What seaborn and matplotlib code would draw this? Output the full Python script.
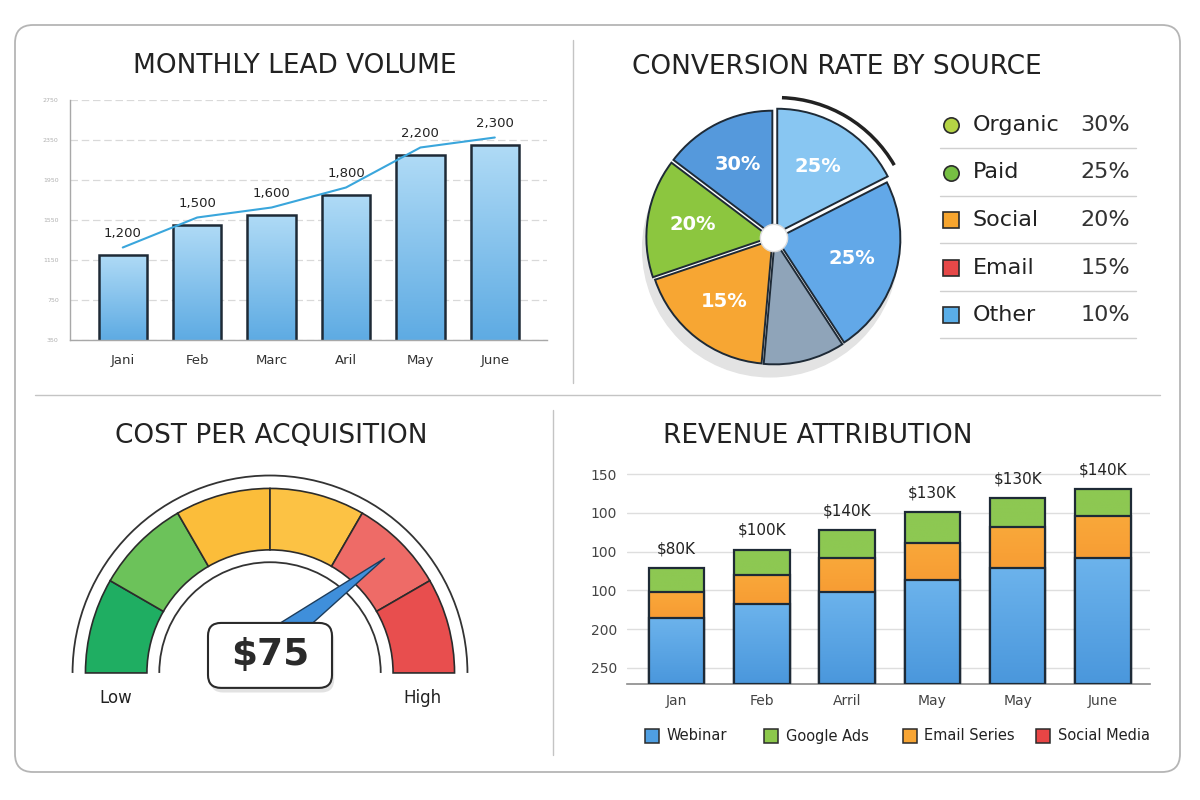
import numpy as np
import pandas as pd
import matplotlib
matplotlib.use('Agg')
import matplotlib.pyplot as plt
from matplotlib.patches import Wedge, Arc, Circle, FancyBboxPatch, Polygon
from matplotlib.colors import LinearSegmentedColormap
import seaborn as sns

sns.set_theme(style='white')
plt.rcParams['font.family'] = ['DejaVu Sans']

# --- данные ---
lead_months = ['Jani', 'Feb', 'Marc', 'Aril', 'May', 'June']
lead_volume = [1200, 1500, 1600, 1800, 2200, 2300]
lead_labels = ['1,200', '1,500', '1,600', '1,800', '2,200', '2,300']

source_names = ['Organic', 'Paid', 'Social', 'Email', 'Other']
source_shares = ['30%', '25%', '20%', '15%', '10%']
source_colors = ['#b5d445', '#76bf43', '#f7a52e', '#e64848', '#5aaee8']
source_markers = ['o', 'o', 's', 's', 's']

# slices clockwise from 12 o'clock, sizes
pie_sizes = [17.5, 23.3, 10.6, 18.4, 15.5, 14.7]
pie_labels = ['25%', '25%', '', '15%', '20%', '30%']
pie_colors = ['#88c6f2', '#62a8e8', '#8fa4b9', '#f7a633', '#8cc63f', '#5599dc']
pie_explode = [0.05, 0.02, 0.02, 0.02, 0.03, 0.03]

cpa_value = 75
cpa_max = 100
cpa_text = '$75'
gauge_colors = ['#1fae62', '#6cc25a', '#fbbd3a', '#fcc244', '#ee6b67', '#e84e4e']

rev_months = ['Jan', 'Feb', 'Arril', 'May', 'May', 'June']
rev_webinar = [47, 57, 66, 74, 83, 90]
rev_email = [19, 21, 24, 27, 29, 30]
rev_google = [17, 18, 20, 22, 21, 19]
rev_totals = ['$80K', '$100K', '$140K', '$130K', '$130K', '$140K']
rev_ytick_labels = ['250', '200', '100', '100', '100', '150']
rev_series = ['Webinar', 'Google Ads', 'Email Series', 'Social Media']
rev_colors = ['#4f9fe2', '#8cc84b', '#f7a534', '#e84545']

EDGE = '#1e2a36'
TXT = '#222222'


def fill_gradient(ax, patches, top, bottom, z, floor=None):
    """Заливка столбцов вертикальным градиентом."""
    cmap = LinearSegmentedColormap.from_list('g', [bottom, top])
    grad = np.linspace(0, 1, 256).reshape(-1, 1)
    for p in patches:
        x0, y0, w, h = p.get_x(), p.get_y(), p.get_width(), p.get_height()
        lo = y0 if floor is None else max(y0, floor)
        im = ax.imshow(grad, extent=[x0, x0 + w, lo, y0 + h], origin='lower',
                       aspect='auto', cmap=cmap, zorder=z)
        im.set_clip_path(p)
        p.set_facecolor('none')
        p.set_zorder(z + 0.5)


fig = plt.figure(figsize=(12, 8), dpi=100)
fig.patch.set_facecolor('white')

# холст в пикселях для рамок, заголовков и легенд
canvas = fig.add_axes([0, 0, 1, 1], zorder=-1)
canvas.set_xlim(0, 1200)
canvas.set_ylim(800, 0)
canvas.axis('off')
canvas.add_patch(FancyBboxPatch((15, 25), 1165, 747, boxstyle='round,pad=0,rounding_size=18',
                                fc='none', ec='#b5b5b5', lw=1.3))
canvas.plot([573, 573], [40, 383], color='#c4c4c4', lw=1)
canvas.plot([35, 1160], [395, 395], color='#c4c4c4', lw=1)
canvas.plot([553, 553], [410, 755], color='#c4c4c4', lw=1)

titles = [('MONTHLY LEAD VOLUME', 295, 66), ('CONVERSION RATE BY SOURCE', 837, 67),
          ('COST PER ACQUISITION', 271, 436), ('REVENUE ATTRIBUTION', 818, 436)]
for t, x, y in titles:
    canvas.text(x, y, t, ha='center', va='center', fontsize=19, color=TXT)

# === 1. Monthly lead volume ===
ax1 = fig.add_axes([69.8 / 1200, 1 - 340 / 800, 476.7 / 1200, 240 / 800])
ax1.patch.set_alpha(0)
df_lead = pd.DataFrame({'month': lead_months, 'leads': lead_volume})
sns.barplot(data=df_lead, x='month', y='leads', order=lead_months, color='#7fc0ee',
            width=0.65, saturation=1, edgecolor=EDGE, linewidth=1.8, ax=ax1)
ax1.set_ylim(350, 2750)
fill_gradient(ax1, list(ax1.patches), '#b0dbf6', '#5eabe3', 2, floor=350)
xs = np.arange(len(lead_volume))
ax1.plot(xs, np.array(lead_volume) + 75, color='#3aa6dc', lw=1.5, zorder=4)
for i, (v, lab) in enumerate(zip(lead_volume, lead_labels)):
    ax1.annotate(lab, (i, v), xytext=(0, 15.6), textcoords='offset points',
                 ha='center', va='center', fontsize=9.5, color=TXT)
ax1.set_xlim(-0.712, 5.695)
ax1.set_ylim(350, 2750)
ax1.set_yticks(np.arange(350, 2751, 400))
ax1.yaxis.grid(True, color='#d9d9d9', lw=0.9, ls=(0, (6, 3)))
ax1.set_axisbelow(True)
ax1.set_xlabel('')
ax1.set_ylabel('')
ax1.tick_params(axis='x', length=0, pad=10, labelsize=9.5, labelcolor='#333333')
ax1.tick_params(axis='y', length=0, pad=8, labelsize=4.5, labelcolor='#b0b0b0')
for s in ['top', 'right']:
    ax1.spines[s].set_visible(False)
for s in ['left', 'bottom']:
    ax1.spines[s].set_color('#a8a8a8')
    ax1.spines[s].set_linewidth(1)

# === 2. Conversion rate pie ===
ax2 = fig.add_axes([624 / 1200, 1 - 388 / 800, 300 / 1200, 300 / 800])
ax2.patch.set_alpha(0)
ax2.add_patch(Circle((-0.03, -0.09), 1.03, color='#e3e3e3', zorder=0))
ax2.add_patch(Circle((0, 0), 1.0, color='white', zorder=0.5))
wedges, texts = ax2.pie(pie_sizes, labels=pie_labels, colors=pie_colors, explode=pie_explode,
                        startangle=90, counterclock=False, labeldistance=0.63,
                        wedgeprops=dict(edgecolor=EDGE, linewidth=1.4),
                        textprops=dict(color='white', fontsize=14, fontweight='bold'))
for t in texts:
    t.set_ha('center')
    t.set_va('center')
    t.set_zorder(5)
ax2.add_patch(Circle((0, 0), 0.11, fc='white', ec='#dcdcdc', lw=1, zorder=4))
# дуга-акцент снаружи выдвинутого сектора
c0 = wedges[0].center
ax2.add_patch(Arc(c0, 2.18, 2.18, theta1=30, theta2=88, color='#222222', lw=2.5, zorder=4))
ax2.set_xlim(-1.21, 1.21)
ax2.set_ylim(-1.21, 1.21)
ax2.set_aspect('equal')
ax2.axis('off')

for i, (name, share, col, mk) in enumerate(zip(source_names, source_shares, source_colors, source_markers)):
    y = 125 + i * 47.5
    canvas.plot(951, y, marker=mk, ms=11, mfc=col, mec='#2b2b2b', mew=1.2)
    canvas.text(973, y, name, ha='left', va='center', fontsize=16, color=TXT)
    canvas.text(1130, y, share, ha='right', va='center', fontsize=16, color='#333333')
    canvas.plot([940, 1136], [y + 23, y + 23], color='#d0d0d0', lw=1)

# === 3. Cost per acquisition gauge ===
ax3 = fig.add_axes([60 / 1200, 1 - 720 / 800, 420 / 1200, 260 / 800])
ax3.patch.set_alpha(0)
edges = np.linspace(180, 0, len(gauge_colors) + 1)
for col, t1, t2 in zip(gauge_colors, edges[:-1], edges[1:]):
    ax3.add_patch(Wedge((0, 0), 1.0, t2, t1, width=0.333, fc=col, ec='#2b2b2b', lw=1.2, zorder=2))
ax3.add_patch(Arc((0, 0), 2.14, 2.14, theta1=0, theta2=180, color='#333333', lw=1.3))
ax3.add_patch(Arc((0, 0), 1.2, 1.2, theta1=0, theta2=180, color='#333333', lw=1.3))

ang = np.deg2rad(180 * (1 - cpa_value / cpa_max))
tip = 0.88 * np.array([np.cos(ang), np.sin(ang)])
pivot = np.array([-0.206, 0.0])
d = tip - pivot
base = pivot + 0.35 * d
perp = np.array([-d[1], d[0]]) / np.hypot(*d)
ax3.add_patch(Polygon([base + 0.06 * perp, tip, base - 0.06 * perp], closed=True,
                      fc='#3f8fdb', ec='#1d3d5c', lw=1, zorder=3))
ax3.add_patch(FancyBboxPatch((-0.324, -0.106), 0.672, 0.352, boxstyle='round,pad=0,rounding_size=0.07',
                             fc='#cfcfcf', ec='none', alpha=0.6, zorder=4))
ax3.add_patch(FancyBboxPatch((-0.336, -0.081), 0.672, 0.352, boxstyle='round,pad=0,rounding_size=0.07',
                             fc='white', ec='#2a2a2a', lw=1.5, zorder=5))
ax3.text(0, 0.098, cpa_text, ha='center', va='center', fontsize=27, fontweight='bold',
         color='#2a2a2a', zorder=6)
ax3.text(-0.835, -0.135, 'Low', ha='center', va='center', fontsize=12, color=TXT)
ax3.text(0.824, -0.135, 'High', ha='center', va='center', fontsize=12, color=TXT)
ax3.set_xlim(-1.138, 1.138)
ax3.set_ylim(-0.255, 1.154)
ax3.axis('off')

# === 4. Revenue attribution ===
ax4 = fig.add_axes([627 / 1200, 1 - 684 / 800, 523 / 1200, 214 / 800])
ax4.patch.set_alpha(0)
idx = np.arange(len(rev_months))
web = np.array(rev_webinar)
em = np.array(rev_email)
goo = np.array(rev_google)
layers = [(web + em + goo, '#8dc852', '#8dc852'),
          (web + em, '#f9a83a', '#f37d22'),
          (web, '#6cb3ec', '#4a97dc')]
for k, (vals, top, bot) in enumerate(layers):
    n0 = len(ax4.patches)
    sns.barplot(x=idx, y=vals, color=top, width=0.65, saturation=1,
                edgecolor=EDGE, linewidth=1.6, ax=ax4)
    fill_gradient(ax4, ax4.patches[n0:], top, bot, 2 + 2 * k)
totals = web + em + goo
for i, lab in enumerate(rev_totals):
    ax4.annotate(lab, (i, totals[i]), xytext=(0, 13.8), textcoords='offset points',
                 ha='center', va='center', fontsize=11, color=TXT)
ax4.set_xlim(-0.58, 5.55)
ax4.set_ylim(0, 152.9)
ax4.set_xticks(idx)
ax4.set_xticklabels(rev_months)
ax4.set_yticks(np.linspace(11.5, 150, 6))
ax4.set_yticklabels(rev_ytick_labels)
ax4.yaxis.grid(True, color='#dedede', lw=1)
ax4.set_axisbelow(True)
ax4.tick_params(axis='x', length=0, pad=7, labelsize=10, labelcolor='#444444')
ax4.tick_params(axis='y', length=0, pad=7, labelsize=10, labelcolor='#444444')
for s in ['top', 'right', 'left']:
    ax4.spines[s].set_visible(False)
ax4.spines['bottom'].set_color('#8a8a8a')
ax4.spines['bottom'].set_linewidth(1.2)

for name, col, x in zip(rev_series, rev_colors, [651.5, 771, 909.5, 1042.5]):
    canvas.plot(x, 736, marker='s', ms=10.5, mfc=col, mec='#2b2b2b', mew=1.1)
    canvas.text(x + 15, 736, name, ha='left', va='center', fontsize=10.5, color=TXT)

plt.savefig('out.png', dpi=100, facecolor='white')
